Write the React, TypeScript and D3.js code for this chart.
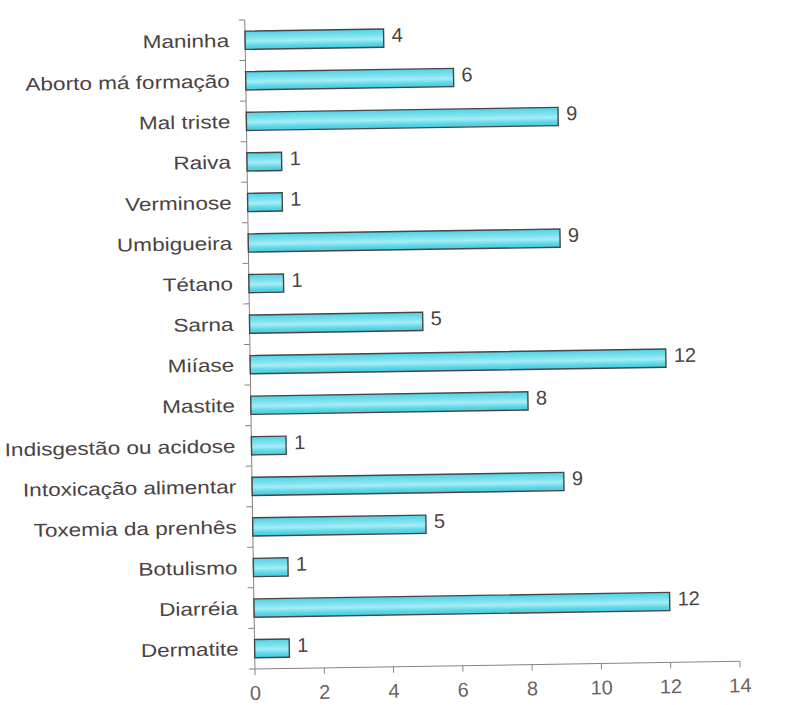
import React from "react";
import * as d3 from "d3";

const categories = [
  "Maninha",
  "Aborto má formação",
  "Mal triste",
  "Raiva",
  "Verminose",
  "Umbigueira",
  "Tétano",
  "Sarna",
  "Miíase",
  "Mastite",
  "Indisgestão ou acidose",
  "Intoxicação alimentar",
  "Toxemia da prenhês",
  "Botulismo",
  "Diarréia",
  "Dermatite",
];
const values = [4, 6, 9, 1, 1, 9, 1, 5, 12, 8, 1, 9, 5, 1, 12, 1];
const xTicks = [0, 2, 4, 6, 8, 10, 12, 14];

const W = 791;
const H = 705;
const x0 = 250;
const x1 = 735;
const yTop = 16;
const yBot = 665;

export default function App() {
  const x = d3.scaleLinear().domain([0, 14]).range([x0, x1]);
  const y = d3.scaleBand<string>().domain(categories).range([yTop, yBot]).paddingInner(0.55).paddingOuter(0.275);
  const step = y.step();
  const boundaries = d3.range(categories.length + 1).map((i) => yTop + i * step);
  const textColor = "#4a4242";
  const font = "'Liberation Sans', Arial, sans-serif";
  return (
    <svg width={W} height={H} style={{ position: "absolute", left: 0, top: 0, background: "#fff" }}>
      <defs>
        <linearGradient id="barFill" x1="0" y1="0" x2="0" y2="1">
          <stop offset="0%" stopColor="#4fd3e4" />
          <stop offset="35%" stopColor="#7fe2ee" />
          <stop offset="55%" stopColor="#a6edf5" />
          <stop offset="80%" stopColor="#5ad6e6" />
          <stop offset="100%" stopColor="#45cde0" />
        </linearGradient>
      </defs>
      <g transform="rotate(-0.9, 500, 350)">
        {/* y axis */}
        <line x1={x0} x2={x0} y1={yTop} y2={yBot} stroke="#8a8080" strokeWidth={1} />
        {boundaries.map((b, i) => (
          <line key={"yt" + i} x1={x0 - 6} x2={x0} y1={b} y2={b} stroke="#8a8080" strokeWidth={1} />
        ))}
        {/* x axis */}
        <line x1={x0} x2={x1} y1={yBot} y2={yBot} stroke="#8a8080" strokeWidth={1} />
        {xTicks.map((t) => (
          <g key={"xt" + t}>
            <line x1={x(t)} x2={x(t)} y1={yBot} y2={yBot + 6} stroke="#8a8080" strokeWidth={1} />
            <text x={x(t)} y={yBot + 31} textAnchor="middle" fontFamily={font} fontSize={20} fill="#6a6262">
              {t}
            </text>
          </g>
        ))}
        {categories.map((c, i) => {
          const yy = y(c)!;
          const bh = y.bandwidth();
          return (
            <g key={c}>
              <text
                transform={`translate(${x0 - 16},${yy + bh / 2}) scale(1.22,1)`}
                dy="0.35em"
                textAnchor="end"
                fontFamily={font}
                fontSize={18.5}
                fill={textColor}
              >
                {c}
              </text>
              <rect x={x(0)} y={yy} width={x(values[i]) - x(0)} height={bh} fill="url(#barFill)" stroke="#4a4444" strokeWidth={1.4} />
              <text x={x(values[i]) + 8} y={yy + bh / 2 - 3} dy="0.35em" fontFamily={font} fontSize={20} fill={textColor}>
                {values[i]}
              </text>
            </g>
          );
        })}
      </g>
    </svg>
  );
}
